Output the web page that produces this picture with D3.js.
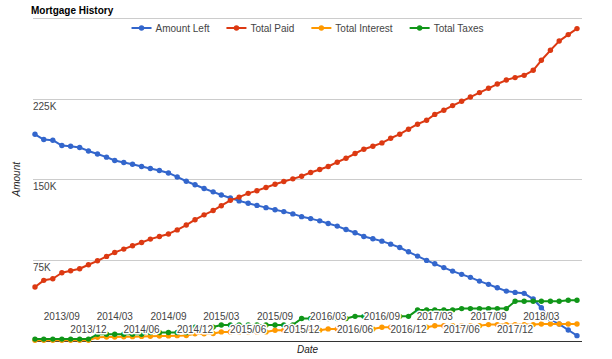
<!DOCTYPE html>
<html>
<head>
<meta charset="utf-8">
<script src="https://cdn.jsdelivr.net/npm/d3@7/dist/d3.min.js"></script>
<style>
  html, body { margin: 0; padding: 0; background: #fff; }
  svg { display: block; font-family: "Liberation Sans", Arial, sans-serif; }
</style>
</head>
<body>
<svg id="chart" width="612" height="359"></svg>
<script>
// ---------- data ----------
const firstMonth = "2013-06-01";
const monthCount = 62;

const seriesNames = ["Amount Left", "Total Paid", "Total Interest", "Total Taxes"];
const seriesColors = ["#3366cc", "#dc3912", "#ff9900", "#109618"];

const amountLeft = [
  192.0, 187.1, 186.5, 181.5, 180.9, 179.7, 176.5, 173.7, 170.7, 167.6,
  165.7, 164.1, 162.0, 160.1, 158.3, 156.0, 152.3, 148.3, 145.0, 141.5,
  138.4, 135.5, 132.7, 130.0, 127.8, 125.8, 123.7, 121.7, 120.0, 117.9,
  115.3, 113.5, 111.4, 109.0, 106.5, 103.4, 100.3, 96.9, 94.7, 92.5,
  89.7, 86.6, 82.6, 78.6, 74.6, 71.4, 67.9, 64.6, 61.6, 58.8,
  55.3, 52.3, 49.1, 46.0, 44.8, 43.9, 38.6, 30.5, 20.0, 15.3,
  9.8, 4.5
];
const totalPaid = [
  49.8, 56.0, 57.5, 63.1, 64.9, 66.8, 70.5, 74.2, 78.3, 82.0,
  85.1, 88.2, 91.3, 94.4, 96.9, 99.2, 103.0, 107.5, 112.5, 117.0,
  121.0, 125.5, 130.5, 133.5, 137.0, 139.5, 142.5, 145.5, 148.0, 150.5,
  153.0, 156.4, 159.2, 162.0, 166.0, 169.7, 174.1, 178.1, 180.9, 184.0,
  188.3, 192.1, 196.7, 201.4, 205.1, 210.5, 214.4, 218.7, 222.7, 226.7,
  230.8, 234.8, 238.8, 242.5, 244.8, 246.9, 251.6, 260.9, 270.2, 278.8,
  284.8, 290.4
];
const totalInterest = [
  0.2, 0.2, 0.2, 0.2, 0.2, 0.2, 0.2, 3.0, 3.2, 3.3,
  3.5, 3.6, 3.8, 4.0, 4.2, 4.3, 4.5, 4.7, 6.2, 6.3,
  6.5, 8.0, 8.0, 8.0, 8.0, 8.0, 8.0, 9.6, 9.6, 9.6,
  9.6, 9.6, 9.6, 10.8, 10.8, 10.8, 10.8, 10.8, 10.8, 12.3,
  12.3, 12.3, 12.3, 12.3, 12.3, 13.8, 13.8, 13.8, 13.8, 13.8,
  13.8, 14.8, 14.8, 14.8, 14.8, 14.8, 14.8, 15.3, 15.3, 15.3,
  15.3, 15.3
];
const totalTaxes = [
  1.3, 1.3, 1.3, 1.3, 1.3, 1.3, 1.3, 5.8, 5.8, 5.8,
  5.8, 5.8, 5.8, 7.5, 7.5, 7.5, 7.5, 7.5, 12.5, 12.5,
  12.5, 14.5, 14.5, 14.5, 14.5, 14.5, 14.5, 14.5, 14.5, 14.5,
  20.5, 20.5, 20.5, 20.5, 20.5, 20.5, 22.5, 22.5, 22.5, 22.5,
  22.5, 22.5, 22.5, 28.5, 28.5, 28.5, 28.5, 28.5, 29.7, 29.7,
  29.7, 29.7, 29.7, 29.7, 36.5, 36.5, 36.5, 36.5, 36.5, 36.5,
  37.5, 37.5
];
const seriesValues = [amountLeft, totalPaid, totalInterest, totalTaxes];

const yTicks = [75000, 150000, 225000];
const yTickLabels = ["75K", "150K", "225K"];
const xTickLabels = [
  "2013/09", "2013/12", "2014/03", "2014/06", "2014/09", "2014/12",
  "2015/03", "2015/06", "2015/09", "2015/12", "2016/03", "2016/06",
  "2016/09", "2016/12", "2017/03", "2017/06", "2017/09", "2017/12", "2018/03"
];

// ---------- layout ----------
const W = 612, H = 359;
const plot = { left: 33, right: 582, top: 18, bottom: 340.5 };

const parseMonth = d3.timeParse("%Y-%m-%d");
const parseLabel = d3.timeParse("%Y/%m");
const start = parseMonth(firstMonth);
const months = d3.timeMonth.range(start, d3.timeMonth.offset(start, monthCount));

const x = d3.scaleTime()
  .domain([months[0], months[months.length - 1]])
  .range([plot.left + 2, plot.right - 5]);
const y = d3.scaleLinear().domain([0, 300000]).range([plot.bottom, 18.3]);

const svg = d3.select("#chart");
svg.append("rect").attr("width", W).attr("height", H).attr("fill", "#fff");

// gridlines
const gridVals = [75000, 150000, 225000, 300000];
svg.append("g").selectAll("line").data(gridVals).join("line")
  .attr("x1", plot.left).attr("x2", plot.right)
  .attr("y1", d => Math.round(y(d)) + 0.5).attr("y2", d => Math.round(y(d)) + 0.5)
  .attr("stroke", "#cccccc").attr("stroke-width", 1);

// baseline
svg.append("line")
  .attr("x1", plot.left).attr("x2", plot.right)
  .attr("y1", Math.round(y(0)) + 0.5).attr("y2", Math.round(y(0)) + 0.5)
  .attr("stroke", "#333333").attr("stroke-width", 1);

// series
const line = d3.line().x((d, i) => x(months[i])).y(d => y(d * 1000));
const gSeries = svg.append("g");
seriesValues.forEach((vals, s) => {
  gSeries.append("path")
    .attr("d", line(vals))
    .attr("fill", "none")
    .attr("stroke", seriesColors[s])
    .attr("stroke-width", 2)
    .attr("stroke-linejoin", "round");
  gSeries.append("g").selectAll("circle").data(vals).join("circle")
    .attr("cx", (d, i) => x(months[i]))
    .attr("cy", d => y(d * 1000))
    .attr("r", 2.7)
    .attr("fill", seriesColors[s]);
});

// axis labels with white halo (drawn above lines)
function haloText(sel) {
  return sel.attr("stroke", "#fff").attr("stroke-width", 3)
    .attr("stroke-linejoin", "round").attr("paint-order", "stroke");
}

const gX = svg.append("g");
xTickLabels.forEach((lab, i) => {
  const t = gX.append("text")
    .attr("x", x(parseLabel(lab)))
    .attr("y", i % 2 === 0 ? 320 : 333)
    .attr("text-anchor", "middle")
    .attr("font-size", 10)
    .attr("fill", "#444")
    .text(lab);
  haloText(t);
});

const gY = svg.append("g");
yTicks.forEach((v, i) => {
  const t = gY.append("text")
    .attr("x", plot.left)
    .attr("y", y(v) + 10.8)
    .attr("font-size", 10)
    .attr("fill", "#444")
    .text(yTickLabels[i]);
  haloText(t);
});

// axis titles
svg.append("text")
  .attr("transform", `translate(20,${(plot.top + plot.bottom) / 2}) rotate(-90)`)
  .attr("text-anchor", "middle")
  .attr("font-size", 10).attr("font-style", "italic").attr("fill", "#222")
  .text("Amount");
svg.append("text")
  .attr("x", (plot.left + plot.right) / 2).attr("y", 353)
  .attr("text-anchor", "middle")
  .attr("font-size", 10).attr("font-style", "italic").attr("fill", "#222")
  .text("Date");

// title
svg.append("text")
  .attr("x", 31).attr("y", 14)
  .attr("font-size", 10).attr("font-weight", "bold").attr("fill", "#000")
  .text("Mortgage History");

// legend
const legend = svg.append("g");
const items = seriesNames.map((name, i) => {
  const g = legend.append("g");
  g.append("line").attr("x1", 0).attr("x2", 20).attr("y1", 0).attr("y2", 0)
    .attr("stroke", seriesColors[i]).attr("stroke-width", 2);
  g.append("circle").attr("cx", 10).attr("cy", 0).attr("r", 2.7).attr("fill", seriesColors[i]);
  const t = g.append("text").attr("x", 24).attr("y", 3.5)
    .attr("font-size", 10).attr("fill", "#444").text(name);
  return { g, w: 24 + t.node().getComputedTextLength() };
});
const gap = 17;
const totalW = d3.sum(items, d => d.w) + gap * (items.length - 1);
let lx = (plot.left + plot.right) / 2 - totalW / 2;
items.forEach(it => {
  it.g.attr("transform", `translate(${lx},28)`);
  lx += it.w + gap;
});
</script>
</body>
</html>
